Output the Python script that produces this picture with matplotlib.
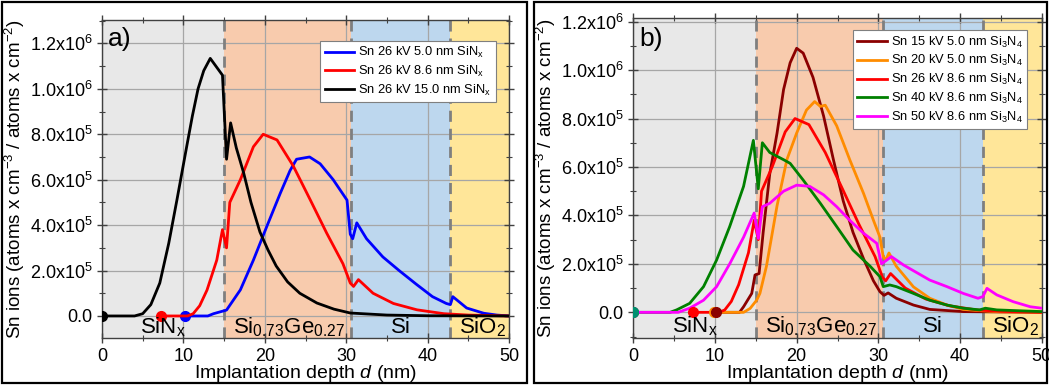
#!/usr/bin/env python3
import matplotlib
matplotlib.use("Agg")
import matplotlib.pyplot as plt
from matplotlib.patches import Rectangle
from matplotlib.ticker import FuncFormatter, MultipleLocator

plt.rcParams['font.family'] = ['Liberation Sans', 'DejaVu Sans']
plt.rcParams['mathtext.fontset'] = 'custom'
plt.rcParams['mathtext.rm'] = 'Liberation Sans'
plt.rcParams['mathtext.it'] = 'Liberation Sans:italic'

# --- layer stack (nm) ---
layer_edges = [0, 15.0, 30.6, 42.8, 50]
layer_colors = ['#e8e8e8', '#f8cbad', '#bdd7ee', '#ffe699']
layer_names = ['SiN$_{\\mathrm{x}}$', 'Si$_{0.73}$Ge$_{0.27}$', 'Si', 'SiO$_2$']
layer_label_x = [7.5, 23.0, 36.7, 46.8]

# --- panel a) : 26 kV, different SiNx thicknesses ---
a_blue_x = [10.2, 13.0, 13.7, 15.3, 17.0, 18.6, 20.2, 21.9, 23.1, 23.9, 25.5, 26.8, 28.4, 30.1, 30.5,
            30.8, 31.3, 32.5, 34.5, 36.5, 38.6, 40.6, 42.3, 42.8, 43.1, 44.8, 46.9, 48.5, 50.0]
a_blue_y = [0, 0, 0.01, 0.026, 0.115, 0.246, 0.39, 0.54, 0.64, 0.69, 0.70, 0.67, 0.60, 0.51, 0.36,
            0.34, 0.41, 0.34, 0.26, 0.20, 0.14, 0.085, 0.055, 0.05, 0.085, 0.035, 0.012, 0.004, 0.0]
a_red_x = [7.25, 10.5, 11.2, 12.0, 12.9, 14.1, 14.8, 15.3, 15.7, 17.0, 18.6, 19.8, 21.5, 23.5, 25.6,
           27.6, 29.6, 30.5, 30.9, 31.5, 33.3, 35.8, 38.7, 42.0, 45.0, 50.0]
a_red_y = [0, 0, 0.01, 0.045, 0.114, 0.246, 0.38, 0.30, 0.50, 0.60, 0.745, 0.80, 0.775, 0.66, 0.51,
           0.365, 0.23, 0.145, 0.13, 0.16, 0.10, 0.055, 0.027, 0.01, 0.004, 0.0]
a_black_x = [0, 4.0, 5.0, 6.0, 7.1, 8.2, 9.2, 10.4, 11.1, 11.8, 12.5, 13.3, 14.8, 15.3, 15.8, 16.5,
             17.4, 18.3, 19.4, 20.4, 21.4, 22.8, 24.3, 26.4, 28.5, 30.5, 35.0, 40.0, 50.0]
a_black_y = [0, 0, 0.01, 0.05, 0.145, 0.32, 0.51, 0.745, 0.88, 1.00, 1.08, 1.134, 1.06, 0.69, 0.85,
             0.74, 0.63, 0.50, 0.37, 0.29, 0.22, 0.15, 0.10, 0.057, 0.03, 0.013, 0.004, 0.001, 0.0]
a_labels = ['Sn 26 kV 5.0 nm SiN$_{\\mathrm{x}}$', 'Sn 26 kV 8.6 nm SiN$_{\\mathrm{x}}$',
            'Sn 26 kV 15.0 nm SiN$_{\\mathrm{x}}$']

# --- panel b) : different energies ---
b_dred_x = [10.1, 13.0, 13.5, 14.5, 14.9, 15.4, 15.9, 16.7, 17.6, 18.4, 19.2, 20.0, 20.8, 22.0, 23.3,
            24.5, 25.7, 26.9, 28.2, 29.4, 30.2, 30.7, 31.2, 32.2, 34.3, 36.3, 40.4, 50.0]
b_dred_y = [0, 0, 0.023, 0.078, 0.154, 0.16, 0.33, 0.57, 0.74, 0.92, 1.03, 1.09, 1.07, 0.97, 0.81,
            0.63, 0.46, 0.33, 0.22, 0.13, 0.085, 0.07, 0.08, 0.058, 0.03, 0.012, 0.003, 0.0]
b_orange_x = [9.9, 13.5, 14.3, 15.1, 15.5, 16.3, 17.6, 18.8, 20.0, 21.2, 22.2, 22.9, 23.5, 24.9, 26.5,
              28.2, 29.4, 30.2, 30.6, 30.9, 31.3, 32.2, 34.3, 36.3, 38.4, 40.4, 42.4, 45.0, 50.0]
b_orange_y = [0, 0, 0.016, 0.05, 0.078, 0.19, 0.44, 0.63, 0.74, 0.835, 0.87, 0.85, 0.855, 0.77, 0.63,
              0.49, 0.38, 0.31, 0.23, 0.215, 0.245, 0.19, 0.105, 0.058, 0.03, 0.012, 0.007, 0.002, 0.0]
b_red_x = a_red_x
b_red_y = a_red_y
b_green_x = [0, 4.5, 5.3, 6.9, 8.6, 10.2, 11.8, 13.5, 14.7, 15.3, 15.8, 16.7, 18.4, 19.2, 20.8, 22.9,
             24.9, 26.9, 29.0, 30.2, 30.6, 31.4, 32.2, 34.3, 36.3, 38.4, 40.4, 42.4, 43.1, 44.5, 50.0]
b_green_y = [0, 0, 0.01, 0.037, 0.106, 0.216, 0.354, 0.52, 0.71, 0.51, 0.70, 0.66, 0.63, 0.615, 0.546,
             0.45, 0.354, 0.257, 0.19, 0.147, 0.106, 0.113, 0.106, 0.078, 0.05, 0.03, 0.017, 0.01,
             0.017, 0.01, 0.003]
b_mag_x = [0, 5.5, 6.9, 8.6, 10.2, 11.8, 13.5, 14.8, 15.3, 15.8, 16.7, 18.4, 20.0, 21.6, 23.3, 24.9,
           26.5, 28.2, 29.8, 30.4, 30.8, 31.6, 33.1, 36.3, 38.4, 40.4, 42.2, 42.8, 43.3, 44.5, 46.5,
           48.6, 50.0]
b_mag_y = [0, 0, 0.017, 0.05, 0.106, 0.20, 0.31, 0.41, 0.305, 0.436, 0.45, 0.50, 0.525, 0.52, 0.485,
           0.436, 0.38, 0.326, 0.285, 0.20, 0.21, 0.23, 0.195, 0.133, 0.106, 0.078, 0.058, 0.065,
           0.099, 0.072, 0.044, 0.023, 0.017]
b_labels = ['Sn 15 kV 5.0 nm Si$_3$N$_4$', 'Sn 20 kV 5.0 nm Si$_3$N$_4$', 'Sn 26 kV 8.6 nm Si$_3$N$_4$',
            'Sn 40 kV 8.6 nm Si$_3$N$_4$', 'Sn 50 kV 8.6 nm Si$_3$N$_4$']

y_ticks = [0, 0.2, 0.4, 0.6, 0.8, 1.0, 1.2]


def fmt_y(v, pos):
    if abs(v) < 1e-9:
        return '0.0'
    exp = 5 if v < 1.0 - 1e-9 else 6
    return '%.1fx10$^{%d}$' % (v * 10 ** (6 - exp), exp)


def setup_axes(ax, ylim, tag, name_y):
    for i, c in enumerate(layer_colors):
        ax.axvspan(layer_edges[i], layer_edges[i + 1], color=c, zorder=0, lw=0)
    ax.set_xlim(0, 50)
    ax.set_ylim(*ylim)
    ax.grid(True, color='#a6a6a6', lw=0.9, zorder=0.5)
    ax.set_axisbelow(True)
    for xd in layer_edges[1:-1]:
        ax.axvline(xd, color='#7f7f7f', ls=(0, (4, 2.5)), lw=2.0, zorder=1)
    ax.xaxis.set_major_locator(MultipleLocator(10))
    ax.xaxis.set_minor_locator(MultipleLocator(5))
    ax.set_yticks(y_ticks)
    ax.yaxis.set_minor_locator(MultipleLocator(0.1))
    ax.yaxis.set_major_formatter(FuncFormatter(fmt_y))
    ax.tick_params(which='both', direction='inout', top=True, right=True, labelsize=13,
                   color='#404040')
    ax.tick_params(which='major', length=7, width=1.0)
    ax.tick_params(which='minor', length=4, width=0.8)
    for s in ax.spines.values():
        s.set_color('#404040')
        s.set_linewidth(1.0)
    ax.set_xlabel('Implantation depth $d$ (nm)', fontsize=14, labelpad=-1)
    ax.set_ylabel('Sn ions (atoms x cm$^{-3}$ / atoms x cm$^{-2}$)', fontsize=13.5, labelpad=2)
    for name, xl in zip(layer_names, layer_label_x):
        ax.text(xl, name_y, name, ha='center', va='baseline', fontsize=16, zorder=4)
    ax.text(0.75, ylim[1] - 0.085, tag, ha='left', va='center', fontsize=19, zorder=4)


fig = plt.figure(figsize=(10.49, 3.85), dpi=100)
fig.patches.append(Rectangle((2 / 1049, 2 / 385), 525 / 1049, 381 / 385, transform=fig.transFigure,
                             fill=False, ec='black', lw=1.6))
fig.patches.append(Rectangle((534 / 1049, 2 / 385), 513 / 1049, 381 / 385, transform=fig.transFigure,
                             fill=False, ec='black', lw=1.6))

legend_kw = dict(loc='upper right', fontsize=9.3, handlelength=2.3, handletextpad=0.3,
                 labelspacing=0.28, borderpad=0.35, fancybox=False, framealpha=1,
                 edgecolor='#7f7f7f', borderaxespad=0)

# panel a
ax1 = fig.add_axes([102 / 1049, 47 / 385, 407 / 1049, 318 / 385])
setup_axes(ax1, (-0.097, 1.303), 'a)', -0.075)
la = []
for xs, ys, c in [(a_blue_x, a_blue_y, '#0000ff'), (a_red_x, a_red_y, '#ff0000'),
                  (a_black_x, a_black_y, '#000000')]:
    ln, = ax1.plot(xs, ys, color=c, lw=2.0, zorder=3)
    ax1.plot(xs[0], ys[0], 'o', color=c, ms=7, zorder=3)
    la.append(ln)
leg = ax1.legend(la, a_labels, bbox_to_anchor=(0.968, 0.935), **legend_kw)
leg.get_frame().set_linewidth(0.8)

# panel b
ax2 = fig.add_axes([633.3 / 1049, 47 / 385, 408.4 / 1049, 320 / 385])
setup_axes(ax2, (-0.106, 1.215), 'b)', -0.081)
lb = []
series_b = [(b_dred_x, b_dred_y, '#8b0000'), (b_orange_x, b_orange_y, '#ff8c00'),
            (b_red_x, b_red_y, '#ff0000'), (b_green_x, b_green_y, '#008000'),
            (b_mag_x, b_mag_y, '#ff00ff')]
for xs, ys, c in series_b:
    ln, = ax2.plot(xs, ys, color=c, lw=2.0, zorder=3)
    lb.append(ln)
for xs, ys, c in series_b[::-1]:
    ax2.plot(xs[0], ys[0], 'o', color=c, ms=7, zorder=3)
ax2.plot(b_green_x[0], b_green_y[0], 'o', color='#009070', ms=7, zorder=3)
leg2 = ax2.legend(lb, b_labels, bbox_to_anchor=(0.965, 0.962), **legend_kw)
leg2.get_frame().set_linewidth(0.8)

fig.savefig('out.png', dpi=100)
plt.close()
